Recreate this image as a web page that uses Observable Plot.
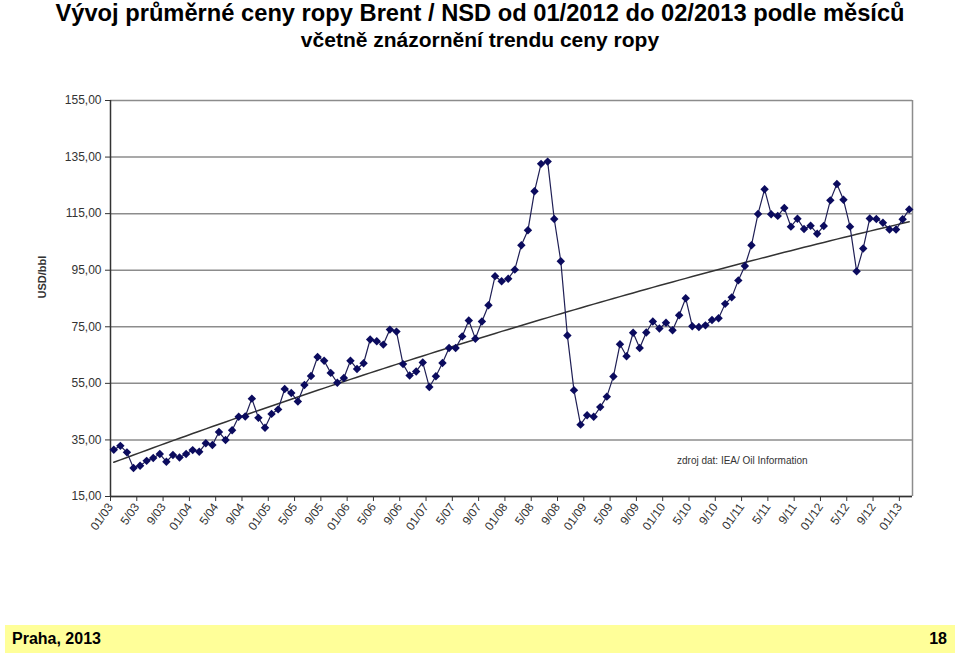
<!DOCTYPE html>
<html><head><meta charset="utf-8">
<script src="https://cdn.jsdelivr.net/npm/d3@7"></script>
<script src="https://cdn.jsdelivr.net/npm/@observablehq/plot@0.6"></script>
<style>
body{margin:0;background:#fff;width:960px;height:655px;position:relative;overflow:hidden;font-family:"Liberation Sans",Arial,sans-serif;}
#title{position:absolute;top:0;left:0;width:960px;text-align:center;font-weight:bold;color:#000;}
#title .t1{font-size:23.7px;line-height:27px;}
#title .t2{font-size:21px;line-height:25px;}
#chart{position:absolute;top:60px;left:0;}
#source{position:absolute;left:677px;top:455px;font-size:10px;color:#333;white-space:nowrap;}
#footer{position:absolute;left:5px;top:625px;width:950px;height:28px;background:#ffff99;font-weight:bold;font-size:16px;color:#000;}
#footer .l{position:absolute;left:7px;top:5px;}
#footer .r{position:absolute;right:8px;top:5px;}
</style></head>
<body>
<div id="title"><div class="t1">Vývoj průměrné ceny ropy Brent / NSD od 01/2012 do 02/2013 podle měsíců</div><div class="t2">včetně znázornění trendu ceny ropy</div></div>
<div id="chart"></div>
<div id="source">zdroj dat: IEA/ Oil Information</div>
<div id="footer"><span class="l">Praha, 2013</span><span class="r">18</span></div>
<script>
// Monthly Brent price, USD/bbl, 01/2003 – 02/2013
const price2003 = [31.5, 32.9, 30.6, 25.1, 25.9, 27.6, 28.6, 30.0, 27.3, 29.7, 28.8, 30.0];
const price2004 = [31.4, 30.8, 33.8, 33.2, 37.8, 35.0, 38.4, 43.2, 43.3, 49.6, 42.8, 39.3];
const price2005 = [44.2, 45.8, 53.0, 51.6, 48.6, 54.4, 57.6, 64.3, 63.0, 58.7, 55.2, 56.9];
const price2006 = [63.0, 60.1, 62.1, 70.5, 69.9, 68.7, 74.0, 73.3, 61.8, 57.8, 59.2, 62.4];
const price2007 = [53.7, 57.5, 62.2, 67.5, 67.5, 71.6, 77.2, 70.8, 76.9, 82.6, 92.9, 91.1];
const price2008 = [92.0, 95.2, 103.8, 109.1, 122.9, 132.6, 133.4, 113.1, 98.2, 71.9, 52.6, 40.4];
const price2009 = [43.7, 43.2, 46.6, 50.3, 57.4, 68.8, 64.6, 72.9, 67.5, 73.0, 76.9, 74.4];
const price2010 = [76.4, 73.8, 79.1, 85.1, 75.2, 74.9, 75.5, 77.4, 78.0, 83.1, 85.4, 91.4];
const price2011 = [96.5, 103.8, 114.9, 123.6, 114.8, 114.2, 117.0, 110.4, 113.2, 109.6, 110.7, 107.9];
const price2012 = [110.6, 119.7, 125.5, 119.9, 110.4, 94.6, 102.7, 113.3, 113.1, 111.8, 109.4, 109.4];
const price2013 = [113.0, 116.5];

const tickLabels = ["01/03","5/03","9/03","01/04","5/04","9/04","01/05","5/05","9/05","01/06","5/06","9/06",
  "01/07","5/07","9/07","01/08","5/08","9/08","01/09","5/09","9/09","01/10","5/10","9/10",
  "01/11","5/11","9/11","01/12","5/12","9/12","01/13"];
const yTicks = [15, 35, 55, 75, 95, 115, 135, 155];

const prices = [].concat(price2003, price2004, price2005, price2006, price2007, price2008,
  price2009, price2010, price2011, price2012, price2013);
const data = prices.map((v, i) => ({i, v}));

// Polynomial (order 2) least-squares trend, as in the spreadsheet trendline
function quadFit(pts) {
  const S = Array.from({length: 5}, (_, k) => d3.sum(pts, p => Math.pow(p.i, k)));
  const T = Array.from({length: 3}, (_, k) => d3.sum(pts, p => Math.pow(p.i, k) * p.v));
  const A = [[S[0], S[1], S[2], T[0]], [S[1], S[2], S[3], T[1]], [S[2], S[3], S[4], T[2]]];
  for (let c = 0; c < 3; c++) {
    for (let r = c + 1; r < 3; r++) {
      const f = A[r][c] / A[c][c];
      for (let k = c; k < 4; k++) A[r][k] -= f * A[c][k];
    }
  }
  const x = [0, 0, 0];
  for (let r = 2; r >= 0; r--) {
    let s = A[r][3];
    for (let k = r + 1; k < 3; k++) s -= A[r][k] * x[k];
    x[r] = s / A[r][r];
  }
  return i => x[0] + x[1] * i + x[2] * i * i;
}
const trendFn = quadFit(data);
const trend = data.map(d => ({i: d.i, v: trendFn(d.i)}));

const xDomain = [-0.5, prices.length - 0.5];
const tickPos = tickLabels.map((_, k) => k * 4 - 0.5);
const labelByPos = new Map(tickPos.map((p, k) => [p, tickLabels[k]]));

const chart = Plot.plot({
  width: 960, height: 496,
  marginLeft: 110, marginRight: 48, marginTop: 40, marginBottom: 60,
  style: {fontFamily: "'Liberation Sans', Arial, sans-serif", fontSize: "12px", color: "#333", background: "transparent", overflow: "visible"},
  x: {domain: xDomain, axis: null},
  y: {domain: [15, 155], axis: null},
  marks: [
    Plot.gridY(yTicks, {stroke: "#8c8c8c", strokeOpacity: 1, strokeWidth: 1.5}),
    Plot.ruleX([xDomain[1]], {stroke: "#8c8c8c", strokeWidth: 1.5}),
    Plot.axisY(yTicks, {tickFormat: d => d.toFixed(2).replace(".", ","), tickSize: 5, tickPadding: 4,
      label: null, fill: "#333"}),
    Plot.text(["USD/bbl"], {frameAnchor: "left", dx: -68, rotate: -90, fontWeight: "bold", fontSize: 11, fill: "#333"}),
    Plot.axisX(tickPos, {tickFormat: d => labelByPos.get(d), tickRotate: -55, tickSize: 5, tickPadding: 3, label: null, fill: "#333"}),
    Plot.ruleX([xDomain[0]], {stroke: "#333", strokeWidth: 1.5}),
    Plot.ruleY([15], {stroke: "#333", strokeWidth: 1.5}),
    Plot.line(trend, {x: "i", y: "v", stroke: "#333", strokeWidth: 1.5}),
    Plot.line(data, {x: "i", y: "v", stroke: "#1f1f55", strokeWidth: 1.2}),
    Plot.dot(data, {x: "i", y: "v", symbol: "diamond2", r: 3.8, fill: "#0b0b5e", stroke: "none"})
  ]
});
document.getElementById("chart").appendChild(chart);
</script>
</body></html>
